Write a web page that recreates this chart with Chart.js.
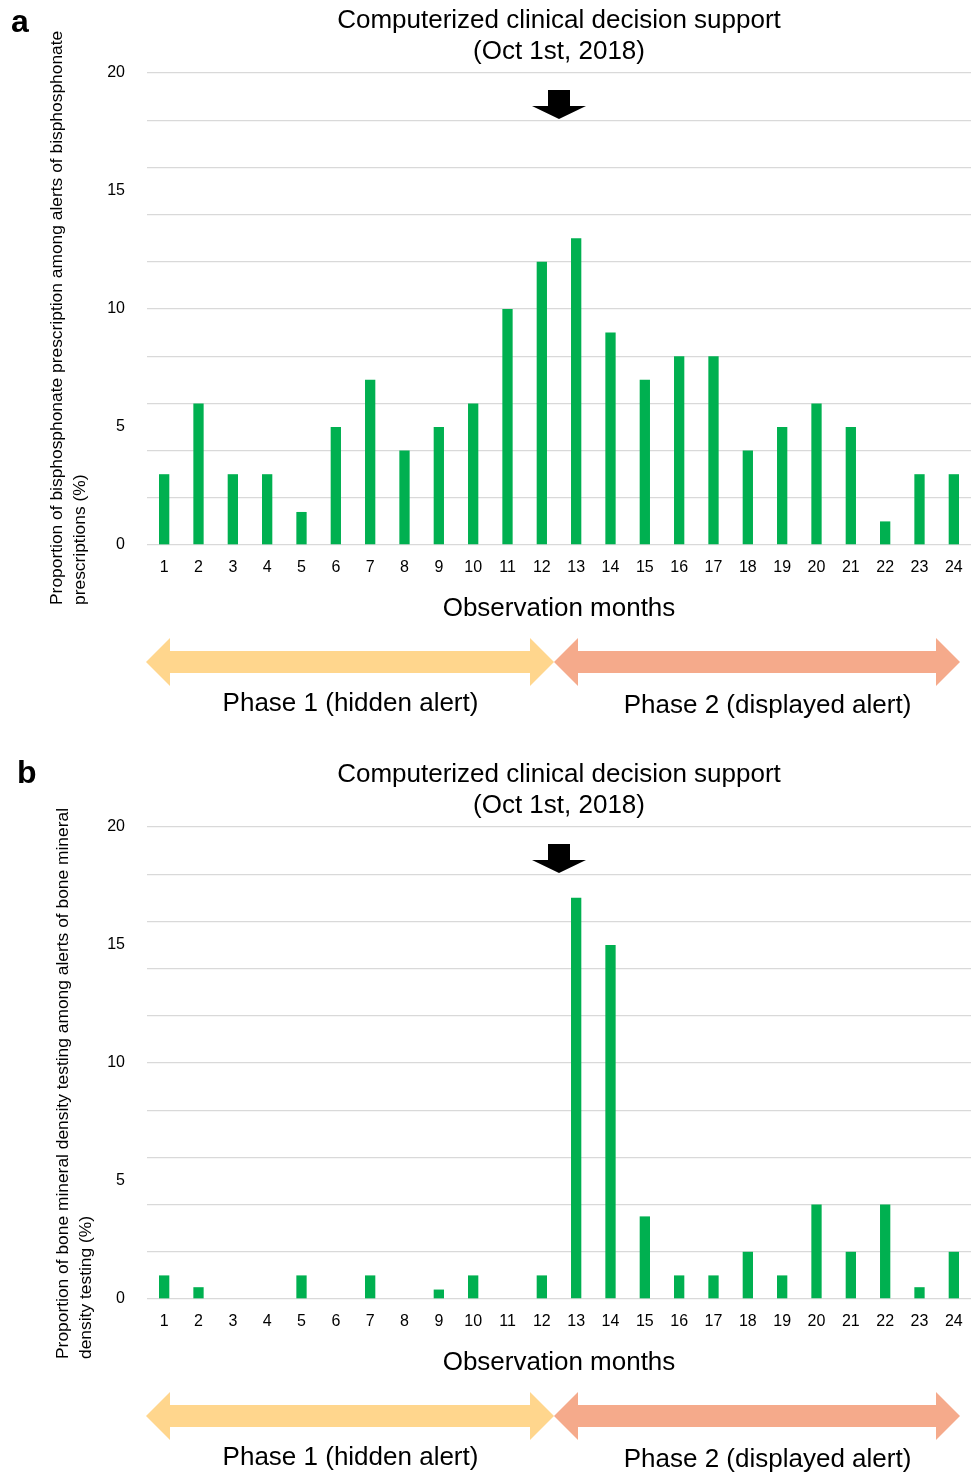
<!DOCTYPE html>
<html>
<head>
<meta charset="utf-8">
<script src="https://cdn.jsdelivr.net/npm/chart.js@4.4.1/dist/chart.umd.min.js"></script>
<style>
  body { margin: 0; background: #fff; }
  canvas { display: block; }
</style>
</head>
<body>
<canvas id="chartA" width="971" height="754"></canvas>
<canvas id="chartB" width="971" height="720"></canvas>
<script>
const months = ["1", "2", "3", "4", "5", "6", "7", "8", "9", "10", "11", "12",
  "13", "14", "15", "16", "17", "18", "19", "20", "21", "22", "23", "24"];
const bisphosphonateRates = [3, 6, 3, 3, 1.4, 5, 7, 4, 5, 6, 10, 12,
  13, 9, 7, 8, 8, 4, 5, 6, 5, 1, 3, 3];
const bmdTestingRates = [1, 0.5, 0, 0, 1, 0, 1, 0, 0.4, 1, 0, 1,
  17, 15, 3.5, 1, 1, 2, 1, 4, 2, 4, 0.5, 2];
const yTickLabels = [0, 5, 10, 15, 20];
const titleLines = ["Computerized clinical decision support", "(Oct 1st, 2018)"];
const phaseLabels = ["Phase 1 (hidden alert)", "Phase 2 (displayed alert)"];

const FONT = "'Liberation Sans', Arial, sans-serif";
Chart.defaults.font.family = FONT;
Chart.defaults.color = "#000";

function doubleArrow(ctx, x0, x1, yc, color) {
  const hl = 24, hh = 24, sh = 11;
  ctx.beginPath();
  ctx.moveTo(x0, yc);
  ctx.lineTo(x0 + hl, yc - hh);
  ctx.lineTo(x0 + hl, yc - sh);
  ctx.lineTo(x1 - hl, yc - sh);
  ctx.lineTo(x1 - hl, yc - hh);
  ctx.lineTo(x1, yc);
  ctx.lineTo(x1 - hl, yc + hh);
  ctx.lineTo(x1 - hl, yc + sh);
  ctx.lineTo(x0 + hl, yc + sh);
  ctx.lineTo(x0 + hl, yc + hh);
  ctx.closePath();
  ctx.fillStyle = color;
  ctx.fill();
}

const decorPlugin = {
  id: "decor",
  afterDraw(chart, args, opts) {
    const { ctx, chartArea } = chart;
    const x = chart.scales.x;
    const split = (x.getPixelForValue(11) + x.getPixelForValue(12)) / 2;
    const mid = (chartArea.left + chartArea.right) / 2;
    const top = chartArea.top;
    const bottom = chartArea.bottom;
    ctx.save();

    // panel letter
    ctx.fillStyle = "#000";
    ctx.font = `bold 32px ${FONT}`;
    ctx.textAlign = "left";
    ctx.textBaseline = "alphabetic";
    ctx.fillText(opts.letter, opts.letterX, opts.letterY);

    // title
    ctx.textBaseline = "middle";
    ctx.font = `26px ${FONT}`;
    ctx.textAlign = "center";
    ctx.fillText(titleLines[0], mid, 21);
    ctx.fillText(titleLines[1], mid, 52);

    // black arrow pointing at the intervention
    ctx.beginPath();
    ctx.moveTo(split - 11, top + 17);
    ctx.lineTo(split + 11, top + 17);
    ctx.lineTo(split + 11, top + 33);
    ctx.lineTo(split + 27, top + 33);
    ctx.lineTo(split, top + 46);
    ctx.lineTo(split - 27, top + 33);
    ctx.lineTo(split - 11, top + 33);
    ctx.closePath();
    ctx.fillStyle = "#000";
    ctx.fill();

    // phase arrows
    const yc = bottom + 117;
    const joint = split - 5;
    doubleArrow(ctx, chartArea.left - 1, joint, yc, "#FFD68D");
    doubleArrow(ctx, joint, chartArea.right - 11, yc, "#F5AA8B");

    ctx.fillStyle = "#000";
    ctx.font = `26px ${FONT}`;
    ctx.textAlign = "center";
    ctx.fillText(phaseLabels[0], (chartArea.left + joint) / 2, bottom + 159);
    ctx.fillText(phaseLabels[1], (joint + chartArea.right) / 2 + 5, bottom + 161);

    // rotated y-axis title
    ctx.font = `17.4px ${FONT}`;
    ctx.textAlign = "left";
    ctx.textBaseline = "middle";
    opts.yTitle.forEach((line, i) => {
      ctx.save();
      ctx.translate(opts.yTitleX + i * 23, bottom + 60);
      ctx.rotate(-Math.PI / 2);
      ctx.fillText(line, 0, 0);
      ctx.restore();
    });

    ctx.restore();
  },
};

function makeChart(id, values, letter, letterX, letterY, yTitle, yTitleX) {
  const canvas = document.getElementById(id);
  const below = canvas.height - 545;
  return new Chart(canvas, {
    type: "bar",
    data: {
      labels: months,
      datasets: [
        {
          data: values,
          backgroundColor: "#00B050",
          barPercentage: 0.3,
          categoryPercentage: 1,
        },
      ],
    },
    options: {
      responsive: false,
      devicePixelRatio: 1,
      animation: false,
      layout: { padding: { top: 73, left: 0, right: -4, bottom: 0 } },
      plugins: {
        legend: { display: false },
        tooltip: { enabled: false },
        decor: { letter, letterX, letterY, yTitle, yTitleX },
      },
      scales: {
        x: {
          grid: { display: false },
          border: { display: false },
          ticks: {
            font: { size: 16 },
            padding: 5,
            maxRotation: 0,
            autoSkip: false,
          },
          title: {
            display: true,
            text: "Observation months",
            font: { size: 26 },
            padding: { top: 0, bottom: below - 64 - 15.6 },
          },
          afterFit(scale) {
            scale.height = below;
          },
        },
        y: {
          min: 0,
          max: 20,
          border: { display: false },
          grid: {
            drawTicks: false,
            lineWidth: 1.3,
            color: (c) =>
              c.tick && c.tick.value % 2 === 0 ? "#D9D9D9" : "rgba(0,0,0,0)",
          },
          ticks: {
            stepSize: 1,
            padding: 22,
            autoSkip: false,
            font: { size: 16 },
            callback: (v) => (yTickLabels.includes(v) ? String(v) : ""),
          },
          afterFit(scale) {
            scale.width = 147;
          },
        },
      },
    },
    plugins: [decorPlugin],
  });
}

makeChart("chartA", bisphosphonateRates, "a", 11, 32,
  ["Proportion of bisphosphonate prescription among alerts of bisphosphonate",
   "prescriptions (%)"], 57);
makeChart("chartB", bmdTestingRates, "b", 17, 29,
  ["Proportion of bone mineral density testing among alerts of bone mineral",
   "density testing (%)"], 63);
</script>
</body>
</html>
